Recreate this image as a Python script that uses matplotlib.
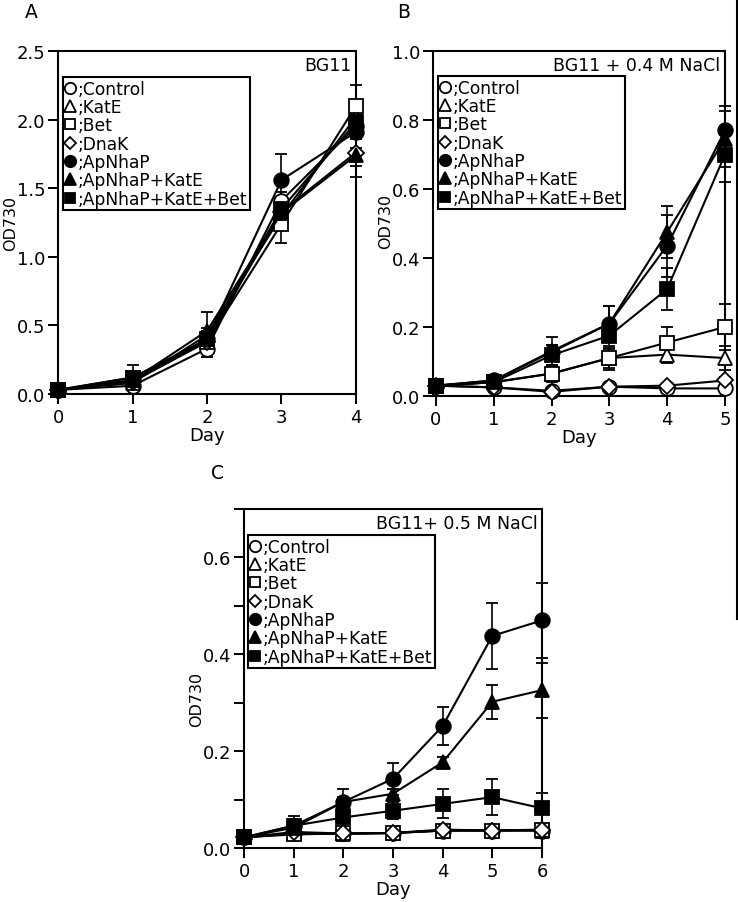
'''
Growth curves (OD730) of the transformed strains in three media.
'''
import matplotlib
matplotlib.use('Agg')
import matplotlib.pyplot as plt
from matplotlib.lines import Line2D
from matplotlib.ticker import MultipleLocator, FormatStrFormatter

plt.rcParams['font.family'] = ['DejaVu Sans']

# Strain names and marker styles (marker, filled).
names = ['Control', 'KatE', 'Bet', 'DnaK',
         'ApNhaP', 'ApNhaP+KatE', 'ApNhaP+KatE+Bet']
markers = ['o', '^', 's', 'D', 'o', '^', 's']
filled = [False, False, False, False, True, True, True]

# Panel A, BG11.
daysA = [0, 1, 2, 3, 4]
odA = {
  'Control':         [0.03, 0.06, 0.33, 1.41, 1.95],
  'KatE':            [0.03, 0.08, 0.43, 1.30, 2.02],
  'Bet':             [0.03, 0.12, 0.38, 1.24, 2.10],
  'DnaK':            [0.03, 0.09, 0.38, 1.33, 1.76],
  'ApNhaP':          [0.03, 0.10, 0.40, 1.56, 1.91],
  'ApNhaP+KatE':     [0.03, 0.10, 0.46, 1.32, 1.74],
  'ApNhaP+KatE+Bet': [0.03, 0.12, 0.40, 1.35, 1.98],
}
errA = {
  'Control':         [0.0, 0.02, 0.06, 0.06, 0.08],
  'KatE':            [0.0, 0.02, 0.05, 0.08, 0.10],
  'Bet':             [0.0, 0.03, 0.05, 0.14, 0.15],
  'DnaK':            [0.0, 0.02, 0.04, 0.07, 0.10],
  'ApNhaP':          [0.0, 0.04, 0.05, 0.19, 0.12],
  'ApNhaP+KatE':     [0.0, 0.05, 0.14, 0.10, 0.16],
  'ApNhaP+KatE+Bet': [0.0, 0.09, 0.06, 0.08, 0.10],
}

# Panel B, BG11 + 0.4 M NaCl.
daysB = [0, 1, 2, 3, 4, 5]
odB = {
  'Control':         [0.030, 0.025, 0.015, 0.027, 0.022, 0.022],
  'KatE':            [0.030, 0.040, 0.065, 0.110, 0.120, 0.110],
  'Bet':             [0.030, 0.040, 0.065, 0.110, 0.155, 0.200],
  'DnaK':            [0.030, 0.025, 0.012, 0.027, 0.030, 0.045],
  'ApNhaP':          [0.030, 0.045, 0.127, 0.210, 0.436, 0.770],
  'ApNhaP+KatE':     [0.030, 0.045, 0.130, 0.210, 0.475, 0.745],
  'ApNhaP+KatE+Bet': [0.030, 0.040, 0.118, 0.175, 0.310, 0.700],
}
errB = {
  'Control':         [0.0, 0.005, 0.005, 0.005, 0.005, 0.005],
  'KatE':            [0.0, 0.005, 0.020, 0.030, 0.025, 0.035],
  'Bet':             [0.0, 0.005, 0.025, 0.035, 0.045, 0.067],
  'DnaK':            [0.0, 0.005, 0.005, 0.005, 0.005, 0.010],
  'ApNhaP':          [0.0, 0.005, 0.020, 0.050, 0.090, 0.070],
  'ApNhaP+KatE':     [0.0, 0.005, 0.040, 0.050, 0.075, 0.080],
  'ApNhaP+KatE+Bet': [0.0, 0.005, 0.030, 0.040, 0.060, 0.080],
}

# Panel C, BG11 + 0.5 M NaCl.
daysC = [0, 1, 2, 3, 4, 5, 6]
odC = {
  'Control':         [0.022, 0.030, 0.030, 0.031, 0.036, 0.036, 0.036],
  'KatE':            [0.022, 0.030, 0.029, 0.031, 0.036, 0.037, 0.036],
  'Bet':             [0.022, 0.028, 0.030, 0.031, 0.036, 0.036, 0.037],
  'DnaK':            [0.022, 0.033, 0.030, 0.031, 0.038, 0.036, 0.038],
  'ApNhaP':          [0.022, 0.046, 0.095, 0.143, 0.252, 0.438, 0.470],
  'ApNhaP+KatE':     [0.022, 0.042, 0.095, 0.112, 0.177, 0.302, 0.326],
  'ApNhaP+KatE+Bet': [0.022, 0.046, 0.063, 0.077, 0.091, 0.105, 0.082],
}
errC = {
  'Control':         [0.0, 0.003, 0.003, 0.003, 0.003, 0.003, 0.003],
  'KatE':            [0.0, 0.003, 0.003, 0.003, 0.003, 0.003, 0.003],
  'Bet':             [0.0, 0.003, 0.003, 0.003, 0.003, 0.003, 0.003],
  'DnaK':            [0.0, 0.003, 0.003, 0.003, 0.003, 0.003, 0.003],
  'ApNhaP':          [0.0, 0.020, 0.027, 0.033, 0.039, 0.068, 0.077],
  'ApNhaP+KatE':     [0.0, 0.010, 0.010, 0.010, 0.010, 0.035, 0.057],
  'ApNhaP+KatE+Bet': [0.0, 0.010, 0.010, 0.017, 0.030, 0.037, 0.032],
}

W, H = 738.0, 903.0

def figBox(left, top, right, bottom):
  '''
  Pixel box (from top left) to figure fraction rect.
  '''
  return [left / W, 1 - bottom / H, (right - left) / W, (bottom - top) / H]

def markerSize(m):
  return {'o': 10.5, '^': 10.5, 's': 9.5, 'D': 8}[m]

def drawPanel(fig, rect, days, od, err, xlim, ylim, major, minor, title,
              legendAt, labelY):
  ax = fig.add_axes(rect)

  # Curves with error bars.
  for name, m, f in zip(names, markers, filled):
    ax.errorbar(days, od[name], yerr=err[name], color='black', lw=1.5,
                marker=m, ms=markerSize(m), mfc='black' if f else 'white',
                mec='black', mew=1.3, ecolor='black', elinewidth=1.2,
                capsize=4, capthick=1.2, clip_on=False, zorder=3)

  # Axes setup.
  ax.set_xlim(xlim)
  ax.set_ylim(ylim)
  ax.xaxis.set_major_locator(MultipleLocator(1))
  ax.yaxis.set_major_locator(MultipleLocator(major))
  if minor:
    ax.yaxis.set_minor_locator(MultipleLocator(minor))
  ax.yaxis.set_major_formatter(FormatStrFormatter('%.1f'))
  ax.tick_params(direction='out', length=7, width=1.4, labelsize=13, pad=2)
  ax.tick_params(which='minor', direction='out', length=7, width=1.4)
  ax.tick_params(axis='x', pad=3)
  for s in ax.spines.values():
    s.set_linewidth(1.5)
  ax.set_xlabel('Day', fontsize=13, labelpad=0)
  ax.set_ylabel('OD730', fontsize=11.5)
  ax.yaxis.set_label_coords(-0.135, labelY)
  ax.text(0.985, 1 - 14.0 / (rect[3] * H), title, transform=ax.transAxes,
          ha='right', va='center', fontsize=12.5)

  # Legend with marker glyphs only.
  handles = [Line2D([], [], ls='none', marker=m, ms=markerSize(m) * 0.78,
                    mfc='black' if f else 'white', mec='black', mew=1.3)
             for m, f in zip(markers, filled)]
  leg = ax.legend(handles, [';' + n for n in names], loc='upper left',
                  bbox_to_anchor=(legendAt[0] / W, 1 - legendAt[1] / H),
                  bbox_transform=fig.transFigure, fontsize=12.3,
                  handlelength=0.55, handletextpad=0.15, labelspacing=0.02,
                  borderpad=0.15, borderaxespad=0, fancybox=False,
                  framealpha=1, edgecolor='black')
  leg.get_frame().set_linewidth(1.5)
  return ax

fig = plt.figure(figsize=(W / 100, H / 100), dpi=100)

drawPanel(fig, figBox(58, 52, 356, 395), daysA, odA, errA, (0, 4), (0, 2.5),
          0.5, None, 'BG11', (63, 78), 0.5)
drawPanel(fig, figBox(433, 52, 725, 397), daysB, odB, errB, (-0.05, 5),
          (0, 1.0), 0.2, None, 'BG11 + 0.4 M NaCl', (438, 77), 0.51)
drawPanel(fig, figBox(244, 510, 542, 849), daysC, odC, errC, (0, 6),
          (0, 0.7), 0.2, 0.1, 'BG11+ 0.5 M NaCl', (248, 536), 0.44)

# Panel letters.
fig.text(31 / W, 1 - 13 / H, 'A', fontsize=13.5, ha='center', va='center')
fig.text(404 / W, 1 - 13 / H, 'B', fontsize=13.5, ha='center', va='center')
fig.text(217 / W, 1 - 474 / H, 'C', fontsize=13.5, ha='center', va='center')

# Edge of the scanned page.
fig.add_artist(Line2D([736.5 / W, 736.5 / W], [1, 1 - 620 / H], color='black',
                      lw=1.5, transform=fig.transFigure))

fig.savefig('out.png', dpi=100)
